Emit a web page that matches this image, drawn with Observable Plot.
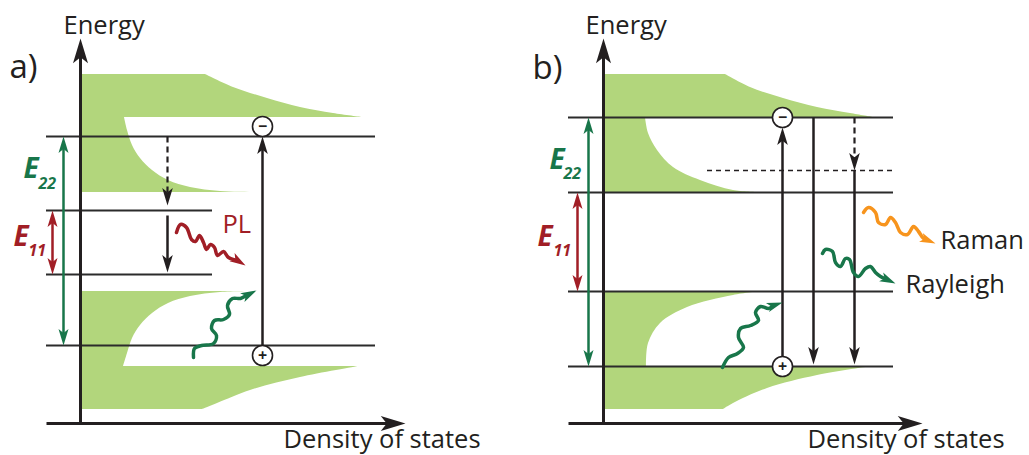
<!DOCTYPE html>
<html>
<head>
<meta charset="utf-8">
<script src="https://cdn.jsdelivr.net/npm/d3@7"></script>
<script src="https://cdn.jsdelivr.net/npm/@observablehq/plot@0.6"></script>
<style>
html, body { margin: 0; padding: 0; background: #fff; }
#wrap { display: flex; width: 1029px; height: 455px; overflow: hidden; }
#wrap svg { display: block; }
</style>
</head>
<body>
<div id="wrap"></div>
<script>
// Units: "dos" = density of states to the right of the energy axis, "E" = energy above the DOS axis.

// ---------------- Panel a) ----------------
const aCondTop    = [[125,349],[153,336],[187,325],[220,316],[253,310],[282,306]];
const aCondEdge   = [[44,306],[47,293],[52,278],[60,265],[72,253],[88,243],[110,236],[140,232],[178,231]];
const aValEdge    = [[175,132],[140,131],[110,127],[88,120],[72,110],[60,98],[52,85],[47,70],[43,57]];
const aValBottom  = [[278,57],[220,46],[170,33],[137,20],[122,14]];
const aLevels     = [{E:287, from:-34, to:295}, {E:213, from:-34, to:132}, {E:149, from:-34, to:132}, {E:78, from:-34, to:295}];
const aVirtual    = [];
const aAxes       = [{x1:0, y1:0, x2:0, y2:385}, {x1:-34, y1:0, x2:325, y2:0}];
const aSolid      = [{dos:182, from:78, to:287}, {dos:87, from:208, to:151}];
const aDashed     = [{dos:87, from:287, to:218}];
const aGaps       = [{name:"E22", dos:-17, lo:78, hi:287}, {name:"E11", dos:-28, lo:149, hi:213}];
const aCharges    = [{dos:182, E:297, sign:"−"}, {dos:182, E:68, sign:"+"}];
const aPL         = [[96,191],[100,199],[106,196],[111,184],[115,182],[119,188],[123,181],[126,174],[130,179],[134,176],[137,168],[143,172],[148,166],[157,163],[165,158]];
const aAbsorb     = [[113,66],[114,75],[121,78],[133,80],[136,88],[131,95],[134,103],[143,104],[149,109],[147,118],[152,125],[160,125],[166,128],[176,133]];
const aTexts      = [{text:"Energy", dos:-17, E:390, size:25.5, kind:"ink"}, {text:"a)", dos:-71, E:346, size:33, kind:"ink"},
                     {text:"Density of states", dos:203, E:-24, size:25.5, kind:"ink"}, {text:"PL", dos:142, E:191, size:25.5, kind:"red"}];
const aGapLabels  = [{text:"E", dos:-57, E:246, size:28, kind:"green"}, {text:"22", dos:-42, E:235, size:16, kind:"green"},
                     {text:"E", dos:-67, E:178, size:28, kind:"red"}, {text:"11", dos:-52, E:168, size:16, kind:"red"}];

// ---------------- Panel b) ----------------
const bCondTop    = [[122,349],[147,336],[180,325],[214,316],[247,310],[270,306]];
const bCondEdge   = [[42,306],[45,290],[54,273],[70,256],[97,243],[130,233],[154,231]];
const bValEdge    = [[157,132],[130,128],[84,116],[57,100],[45,80],[43,57]];
const bValBottom  = [[269,57],[214,48],[164,35],[130,20],[120,14]];
const bLevels     = [{E:306, from:-35, to:290}, {E:231, from:-35, to:290}, {E:132, from:-35, to:290}, {E:57, from:-35, to:290}];
const bVirtual    = [{E:253, from:104, to:290}];
const bAxes       = [{x1:0, y1:0, x2:0, y2:385}, {x1:-35, y1:0, x2:319, y2:0}];
const bSolid      = [{dos:179, from:67, to:296}, {dos:210, from:306, to:59}, {dos:251, from:253, to:59}];
const bDashed     = [{dos:251, from:306, to:253}];
const bGaps       = [{name:"E22", dos:-15, lo:57, hi:306}, {name:"E11", dos:-26, lo:132, hi:231}];
const bCharges    = [{dos:179, E:306, sign:"−"}, {dos:179, E:57, sign:"+"}];
const bAbsorb     = [[119,56],[125,66],[134,70],[140,76],[135,86],[137,95],[147,98],[155,103],[152,111],[157,117],[165,115],[170,118],[179,121]];
const bRayleigh   = [[219,170],[222,174],[229,172],[232,161],[237,157],[242,165],[246,164],[250,151],[255,147],[262,155],[267,157],[272,151],[277,147],[292,140]];
const bRaman      = [[260,211],[265,216],[272,211],[275,201],[282,199],[287,206],[292,201],[297,191],[304,189],[310,197],[315,192],[320,185],[332,180]];
const bTexts      = [{text:"Energy", dos:-18, E:390, size:25.5, kind:"ink"}, {text:"b)", dos:-71, E:345, size:33, kind:"ink"},
                     {text:"Density of states", dos:204, E:-24, size:25.5, kind:"ink"},
                     {text:"Raman", dos:337, E:175, size:25.5, kind:"ink"}, {text:"Rayleigh", dos:302, E:131, size:25.5, kind:"ink"}];
const bGapLabels  = [{text:"E", dos:-54, E:255, size:28, kind:"green"}, {text:"22", dos:-40, E:245, size:16, kind:"green"},
                     {text:"E", dos:-66, E:178, size:28, kind:"red"}, {text:"11", dos:-50, E:168, size:16, kind:"red"}];

// ---------------- styling ----------------
const COLORS = {ink:"#231f20", green:"#18764a", red:"#a11e26", orange:"#f7941d", fill:"#b2d67c"};
const FONT = "'Open Sans', 'DejaVu Sans', sans-serif";
const HEAD = {draw(ctx, size) {
  const r = Math.sqrt(size / Math.PI);
  ctx.moveTo(0, 0); ctx.lineTo(r, 3.3 * r); ctx.lineTo(0, 2.5 * r); ctx.lineTo(-r, 3.3 * r); ctx.closePath();
}};

function angleOf(dx, dE) { return Math.atan2(dx, dE) * 180 / Math.PI; }

function addArrow(out, x1, y1, x2, y2, opt) {
  const {color, r, width, dash = false, start = false, end = true} = opt;
  const len = Math.hypot(x2 - x1, y2 - y1), ux = (x2 - x1) / len, uy = (y2 - y1) / len, cut = 2 * r;
  out.segs.push({
    x1: start ? x1 + ux * cut : x1, y1: start ? y1 + uy * cut : y1,
    x2: end ? x2 - ux * cut : x2, y2: end ? y2 - uy * cut : y2,
    color, width, dash
  });
  if (end) out.heads.push({x: x2, y: y2, angle: angleOf(ux, uy), r, color});
  if (start) out.heads.push({x: x1, y: y1, angle: angleOf(-ux, -uy), r, color});
}

function addSquiggle(out, id, pts, color) {
  const n = pts.length, [tx, ty] = pts[n - 1], [px, py] = pts[n - 2];
  const len = Math.hypot(tx - px, ty - py), ux = (tx - px) / len, uy = (ty - py) / len, r = 4.8;
  pts.slice(0, -1).forEach(([dos, E]) => out.wave.push({id, dos, E, color}));
  out.wave.push({id, dos: tx - ux * 2 * r, E: ty - uy * 2 * r, color});
  out.heads.push({x: tx, y: ty, angle: angleOf(ux, uy), r, color});
}

function bandRows(parts) {
  return parts.flatMap(([part, pts]) => pts.map(([dos, E]) => ({part, dos, E})));
}

function panel(p) {
  const out = {segs: [], heads: [], wave: []};
  p.axes.forEach(a => addArrow(out, a.x1, a.y1, a.x2, a.y2, {color: COLORS.ink, r: 7.5, width: 3}));
  p.solid.forEach(a => addArrow(out, a.dos, a.from, a.dos, a.to, {color: COLORS.ink, r: 5.3, width: 2.5}));
  p.dashed.forEach(a => addArrow(out, a.dos, a.from, a.dos, a.to, {color: COLORS.ink, r: 5.3, width: 2.2, dash: true}));
  p.gaps.forEach(g => addArrow(out, g.dos, g.lo, g.dos, g.hi,
    {color: g.name === "E22" ? COLORS.green : COLORS.red, r: 5, width: 2.5, start: true}));
  p.squiggles.forEach(([id, pts, kind]) => addSquiggle(out, id, pts, COLORS[kind]));

  const radii = [...new Set(out.heads.map(d => d.r))];
  const txt = p.texts.map(d => ({...d, color: COLORS[d.kind]}));
  const sub = p.gapLabels.map(d => ({...d, color: COLORS[d.kind]}));

  return Plot.plot({
    width: p.width, height: 455, margin: 0,
    x: {domain: p.xDomain, axis: null},
    y: {domain: [-32, 423], axis: null},
    color: {type: "identity"},
    style: {fontFamily: FONT, background: "transparent", overflow: "visible"},
    marks: [
      Plot.areaX(bandRows(p.bands), {y: "E", x1: () => 0, x2: "dos", z: "part", fill: COLORS.fill, curve: "catmull-rom"}),
      Plot.ruleY(p.levels, {y: "E", x1: "from", x2: "to", stroke: "#2b2b2b", strokeWidth: 1.8}),
      Plot.ruleY(p.virtual, {y: "E", x1: "from", x2: "to", stroke: COLORS.ink, strokeWidth: 1.6, strokeDasharray: "5,4"}),
      Plot.link(out.segs.filter(d => !d.dash), {x1: "x1", y1: "y1", x2: "x2", y2: "y2", stroke: "color", strokeWidth: "width"}),
      Plot.link(out.segs.filter(d => d.dash), {x1: "x1", y1: "y1", x2: "x2", y2: "y2", stroke: "color", strokeWidth: "width", strokeDasharray: "6,4"}),
      Plot.line(out.wave, {x: "dos", y: "E", z: "id", stroke: "color", strokeWidth: 3.5, curve: "catmull-rom", strokeLinecap: "round"}),
      ...radii.map(r => Plot.dot(out.heads.filter(d => d.r === r), {x: "x", y: "y", r, rotate: "angle", fill: "color", stroke: "none", symbol: HEAD})),
      Plot.dot(p.charges, {x: "dos", y: "E", r: 10, fill: "white", stroke: COLORS.ink, strokeWidth: 1.6}),
      Plot.text(p.charges, {x: "dos", y: "E", text: "sign", fontSize: 16, fontWeight: "bold", fill: COLORS.ink, lineAnchor: "middle"}),
      Plot.text(txt, {x: "dos", y: "E", text: "text", fill: "color", fontSize: "size", textAnchor: "start", lineAnchor: "bottom"}),
      Plot.text(sub, {x: "dos", y: "E", text: "text", fill: "color", fontSize: "size", textAnchor: "start", lineAnchor: "bottom", fontWeight: "bold", fontStyle: "italic"})
    ]
  });
}

const wrap = document.getElementById("wrap");
wrap.append(
  panel({
    width: 515, xDomain: [-80, 435],
    bands: [["ct", aCondTop], ["ce", aCondEdge], ["ve", aValEdge], ["vb", aValBottom]],
    levels: aLevels, virtual: aVirtual, axes: aAxes, solid: aSolid, dashed: aDashed, gaps: aGaps,
    charges: aCharges, squiggles: [["pl", aPL, "red"], ["abs", aAbsorb, "green"]],
    texts: aTexts, gapLabels: aGapLabels
  }),
  panel({
    width: 514, xDomain: [-88, 426],
    bands: [["ct", bCondTop], ["ce", bCondEdge], ["ve", bValEdge], ["vb", bValBottom]],
    levels: bLevels, virtual: bVirtual, axes: bAxes, solid: bSolid, dashed: bDashed, gaps: bGaps,
    charges: bCharges, squiggles: [["abs", bAbsorb, "green"], ["ray", bRayleigh, "green"], ["ram", bRaman, "orange"]],
    texts: bTexts, gapLabels: bGapLabels
  })
);
</script>
</body>
</html>
